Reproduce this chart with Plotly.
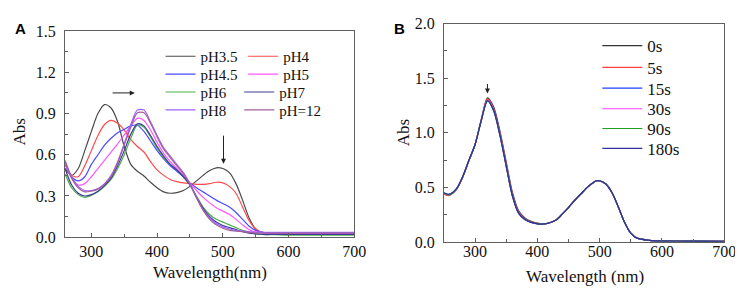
import plotly.graph_objects as go

# ---------------- Panel A data ----------------
wl_a = [260, 270, 280, 290, 300, 310, 320, 330, 340, 350, 360, 370, 380, 390, 400,
        410, 420, 430, 440, 450, 460, 470, 480, 490, 500, 510, 520, 530, 540, 550,
        560, 580, 600, 650, 700]

ph35 = [0.50, 0.45, 0.50, 0.63, 0.77, 0.90, 0.965, 0.94, 0.84, 0.66, 0.53, 0.48, 0.445, 0.40, 0.36,
        0.33, 0.32, 0.325, 0.34, 0.37, 0.41, 0.45, 0.485, 0.505, 0.50, 0.47, 0.39, 0.27, 0.14, 0.06,
        0.035, 0.03, 0.03, 0.03, 0.03]
ph4 = [0.54, 0.45, 0.44, 0.52, 0.63, 0.74, 0.82, 0.85, 0.83, 0.78, 0.71, 0.66, 0.62, 0.55, 0.49,
       0.45, 0.42, 0.405, 0.395, 0.39, 0.385, 0.385, 0.39, 0.40, 0.395, 0.37, 0.32, 0.22, 0.12, 0.06,
       0.035, 0.03, 0.03, 0.03, 0.03]
ph45 = [0.53, 0.44, 0.41, 0.44, 0.53, 0.60, 0.67, 0.72, 0.76, 0.785, 0.81, 0.815, 0.77, 0.70, 0.63,
        0.57, 0.52, 0.48, 0.44, 0.395, 0.36, 0.33, 0.30, 0.27, 0.245, 0.22, 0.18, 0.13, 0.08, 0.05,
        0.035, 0.03, 0.03, 0.03, 0.03]
ph5 = [0.54, 0.43, 0.38, 0.39, 0.44, 0.50, 0.56, 0.62, 0.68, 0.745, 0.81, 0.865, 0.85, 0.78, 0.69,
       0.61, 0.55, 0.50, 0.45, 0.395, 0.34, 0.29, 0.25, 0.215, 0.19, 0.165, 0.13, 0.09, 0.055, 0.04,
       0.035, 0.03, 0.03, 0.03, 0.03]
ph6 = [0.46, 0.36, 0.31, 0.29, 0.305, 0.33, 0.37, 0.42, 0.50, 0.60, 0.72, 0.815, 0.80, 0.73, 0.65,
       0.58, 0.53, 0.49, 0.44, 0.38, 0.30, 0.22, 0.165, 0.13, 0.11, 0.09, 0.07, 0.05, 0.035, 0.025,
       0.02, 0.018, 0.015, 0.015, 0.015]
ph7 = [0.50, 0.38, 0.32, 0.30, 0.31, 0.335, 0.375, 0.43, 0.52, 0.63, 0.75, 0.825, 0.81, 0.74, 0.66,
       0.59, 0.53, 0.49, 0.44, 0.38, 0.29, 0.21, 0.15, 0.11, 0.085, 0.07, 0.055, 0.04, 0.03, 0.025,
       0.02, 0.02, 0.02, 0.02, 0.02]
ph8 = [0.56, 0.44, 0.37, 0.34, 0.34, 0.355, 0.39, 0.45, 0.55, 0.68, 0.82, 0.925, 0.925, 0.84, 0.74,
       0.65, 0.59, 0.53, 0.47, 0.39, 0.29, 0.20, 0.14, 0.10, 0.075, 0.06, 0.05, 0.045, 0.04, 0.035,
       0.035, 0.035, 0.035, 0.035, 0.035]
ph12 = [0.55, 0.43, 0.36, 0.33, 0.335, 0.35, 0.385, 0.44, 0.54, 0.67, 0.80, 0.905, 0.905, 0.83, 0.73,
        0.64, 0.58, 0.52, 0.46, 0.385, 0.285, 0.195, 0.13, 0.09, 0.065, 0.05, 0.045, 0.04, 0.035, 0.03,
        0.03, 0.03, 0.03, 0.03, 0.03]

names_a = ["pH3.5", "pH4", "pH4.5", "pH5", "pH6", "pH7", "pH8", "pH=12"]
series_a = [ph35, ph4, ph45, ph5, ph6, ph7, ph8, ph12]
colors_a = ["#4a4a4a", "#ff4a4a", "#4a4aff", "#ff55ff", "#4caf4c", "#3c3c96", "#a060ff", "#a0609a"]

# ---------------- Panel B data ----------------
wl_b = [250, 258, 270, 280, 290, 300, 310, 320, 330, 340, 350, 360, 370, 380, 390, 400, 410, 420,
        430, 440, 450, 460, 470, 480, 490, 495, 500, 510, 520, 530, 540, 550, 560, 580, 600, 650, 700]

t0 = [0.44, 0.43, 0.48, 0.59, 0.74, 0.89, 1.12, 1.32, 1.235, 1.015, 0.735, 0.455, 0.285, 0.22, 0.188, 0.172, 0.166, 0.176,
      0.20, 0.255, 0.315, 0.38, 0.44, 0.50, 0.545, 0.56, 0.56, 0.53, 0.45, 0.32, 0.18, 0.08, 0.035, 0.015, 0.01, 0.008, 0.006]
t5 = [0.44, 0.425, 0.48, 0.59, 0.74, 0.89, 1.115, 1.31, 1.22, 1.0, 0.72, 0.44, 0.275, 0.213, 0.184, 0.17, 0.165, 0.176,
      0.20, 0.255, 0.315, 0.38, 0.44, 0.498, 0.543, 0.558, 0.558, 0.528, 0.448, 0.318, 0.18, 0.08, 0.035, 0.015, 0.01, 0.008, 0.006]
t15 = [0.45, 0.435, 0.485, 0.595, 0.745, 0.89, 1.11, 1.29, 1.20, 0.975, 0.695, 0.42, 0.262, 0.205, 0.178, 0.166, 0.164, 0.176,
       0.20, 0.255, 0.315, 0.38, 0.44, 0.50, 0.545, 0.56, 0.56, 0.53, 0.45, 0.32, 0.18, 0.08, 0.035, 0.015, 0.01, 0.008, 0.006]
t30 = [0.445, 0.43, 0.482, 0.592, 0.742, 0.89, 1.112, 1.30, 1.21, 0.985, 0.705, 0.43, 0.268, 0.208, 0.18, 0.167, 0.164, 0.176,
       0.20, 0.255, 0.315, 0.38, 0.44, 0.50, 0.545, 0.56, 0.56, 0.53, 0.45, 0.32, 0.18, 0.08, 0.035, 0.015, 0.01, 0.008, 0.006]
t90 = [0.445, 0.43, 0.482, 0.592, 0.742, 0.89, 1.112, 1.295, 1.205, 0.98, 0.70, 0.425, 0.265, 0.207, 0.18, 0.167, 0.164, 0.176,
       0.20, 0.255, 0.315, 0.38, 0.44, 0.50, 0.545, 0.56, 0.56, 0.53, 0.45, 0.32, 0.18, 0.08, 0.035, 0.015, 0.01, 0.008, 0.006]
t180 = [0.45, 0.435, 0.485, 0.595, 0.745, 0.89, 1.11, 1.295, 1.203, 0.978, 0.698, 0.423, 0.264, 0.206, 0.179, 0.166, 0.164, 0.176,
        0.20, 0.255, 0.315, 0.38, 0.44, 0.50, 0.545, 0.56, 0.56, 0.53, 0.45, 0.32, 0.18, 0.08, 0.035, 0.015, 0.01, 0.008, 0.006]

names_b = ["0s", "5s", "15s", "30s", "90s", "180s"]
series_b = [t0, t5, t15, t30, t90, t180]
colors_b = ["#333333", "#ff4040", "#2040ff", "#ff40ff", "#20a020", "#303098"]

ticks_a_x = [300, 400, 500, 600, 700]
ticks_a_y = [0.0, 0.3, 0.6, 0.9, 1.2, 1.5]
ticks_b_x = [300, 400, 500, 600, 700]
ticks_b_y = [0.0, 0.5, 1.0, 1.5, 2.0]

SERIF = "Liberation Serif, Times New Roman, DejaVu Serif, serif"
W, H = 743, 290

# legend slot positions (legend-box left x px, row-centre y px), one slot per legend entry
leg_a_pos = [(155, 43), (239, 43), (155, 62), (239, 62), (155, 81), (235, 81), (155, 100), (235, 100)]
leg_b_pos = [(599, 32), (599, 55), (599, 77), (599, 99), (599, 120), (599, 141)]

fig = go.Figure()
legend_layout = {}
k = 0
for (n, s, c), (px, py) in zip(zip(names_a, series_a, colors_a), leg_a_pos):
    k += 1
    lid = "legend" if k == 1 else f"legend{k}"
    fig.add_trace(go.Scatter(x=wl_a, y=s, name=n, mode="lines",
                             line=dict(color=c, width=1.2, shape="spline", smoothing=0.8),
                             xaxis="x", yaxis="y", legend=lid))
    legend_layout[lid] = dict(x=px / W, y=(H - py) / H, xref="paper", yref="paper",
                              xanchor="left", yanchor="middle", orientation="v",
                              font=dict(family=SERIF, size=15, color="#111111"),
                              bgcolor="rgba(0,0,0,0)", borderwidth=0, itemwidth=30)
for (n, s, c), (px, py) in zip(zip(names_b, series_b, colors_b), leg_b_pos):
    k += 1
    lid = f"legend{k}"
    fig.add_trace(go.Scatter(x=wl_b, y=s, name=n, mode="lines",
                             line=dict(color=c, width=1.2, shape="spline", smoothing=0.8),
                             xaxis="x2", yaxis="y2", legend=lid))
    legend_layout[lid] = dict(x=px / W, y=(H - py) / H, xref="paper", yref="paper",
                              xanchor="left", yanchor="middle", orientation="v",
                              font=dict(family=SERIF, size=17, color="#111111"),
                              bgcolor="rgba(0,0,0,0)", borderwidth=0, itemwidth=40)

axis_common = dict(showline=True, mirror=True, linecolor="#606060", linewidth=1,
                   ticks="inside", ticklen=4, tickcolor="#606060", showgrid=False, zeroline=False,
                   tickfont=dict(family=SERIF, size=16, color="#111111"))

fig.update_layout(
    width=W, height=H, margin=dict(l=0, r=0, t=0, b=0),
    paper_bgcolor="white", plot_bgcolor="white",
    xaxis=dict(domain=[58 / W, 352 / W], range=[260, 700], tickvals=ticks_a_x,
               minor=dict(ticks="inside", ticklen=3, dtick=50, tick0=0, tickcolor="#606060"),
               anchor="y", ticklabelstandoff=0, **axis_common),
    yaxis=dict(domain=[(H - 235) / H, (H - 16) / H], range=[0, 1.5], tickvals=ticks_a_y,
               ticktext=[f"{v:.1f}" for v in ticks_a_y],
               minor=dict(ticks="inside", ticklen=3, dtick=0.15, tick0=0, tickcolor="#606060"),
               anchor="x", ticklabelstandoff=5, **axis_common),
    xaxis2=dict(domain=[443 / W, 728 / W], range=[250, 700], tickvals=ticks_b_x,
                minor=dict(ticks="inside", ticklen=3, dtick=50, tick0=0, tickcolor="#606060"),
                anchor="y2", ticklabelstandoff=-5, **axis_common),
    yaxis2=dict(domain=[(H - 240) / H, (H - 8) / H], range=[0, 2.0], tickvals=ticks_b_y,
                ticktext=[f"{v:.1f}" for v in ticks_b_y],
                minor=dict(ticks="inside", ticklen=3, dtick=0.25, tick0=0, tickcolor="#606060"),
                anchor="x2", ticklabelstandoff=5, **axis_common),
    showlegend=True,
    **legend_layout,
)

ann = []
# panel letters
ann.append(dict(text="<b>A</b>", x=5 / W, y=(H - 13) / H, xref="paper", yref="paper",
                xanchor="left", yanchor="middle", showarrow=False,
                font=dict(family="Liberation Sans, Arial, sans-serif", size=15, color="black")))
ann.append(dict(text="<b>B</b>", x=390 / W, y=(H - 13) / H, xref="paper", yref="paper",
                xanchor="left", yanchor="middle", showarrow=False,
                font=dict(family="Liberation Sans, Arial, sans-serif", size=15, color="black")))
# axis titles
ann.append(dict(text="Wavelength(nm)", x=205 / W, y=(H - 273) / H, xref="paper", yref="paper",
                xanchor="center", yanchor="middle", showarrow=False,
                font=dict(family=SERIF, size=17, color="#111111")))
ann.append(dict(text="Wavelength (nm)", x=586 / W, y=(H - 277) / H, xref="paper", yref="paper",
                xanchor="center", yanchor="middle", showarrow=False,
                font=dict(family=SERIF, size=17, color="#111111")))
ann.append(dict(text="Abs", x=12 / W, y=(H - 123) / H, xref="paper", yref="paper",
                xanchor="center", yanchor="middle", showarrow=False, textangle=-90,
                font=dict(family=SERIF, size=17, color="#111111")))
ann.append(dict(text="Abs", x=402 / W, y=(H - 124) / H, xref="paper", yref="paper",
                xanchor="center", yanchor="middle", showarrow=False, textangle=-90,
                font=dict(family=SERIF, size=17, color="#111111")))
# arrows
arrow_style = dict(text="", showarrow=True, arrowhead=2, arrowsize=1, arrowwidth=1,
                   arrowcolor="#222222", standoff=0)
ann.append(dict(x=366, y=1.05, ax=330, ay=1.05, xref="x", yref="y", axref="x", ayref="y", **arrow_style))
ann.append(dict(x=501, y=0.535, ax=501, ay=0.75, xref="x", yref="y", axref="x", ayref="y", **arrow_style))
ann.append(dict(x=320, y=1.36, ax=320, ay=1.46, xref="x2", yref="y2", axref="x2", ayref="y2", **arrow_style))

fig.update_layout(annotations=ann)
fig.write_html("out.html")
